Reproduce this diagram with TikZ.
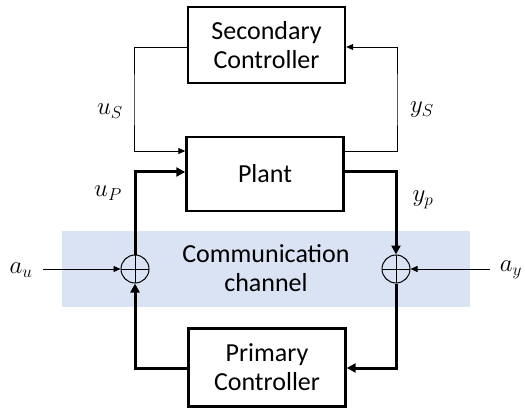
\documentclass[tikz,border=0pt]{standalone}
\usepackage{fontspec}
\setmainfont{Carlito}
\usetikzlibrary{arrows.meta}
\definecolor{band}{HTML}{DAE3F3}
\begin{document}
\begin{tikzpicture}[x=1pt,y=-1pt,
  blockbox/.style={draw,line width=2.4pt,minimum width=157pt,minimum height=74pt,align=center,font=\fontsize{26}{29}\selectfont,inner sep=0pt},
  thinline/.style={line width=0.8pt,-{Triangle[length=7pt,width=6pt]}},
  thickline/.style={line width=3pt,-{Triangle[length=9pt,width=9pt]}},
  sumnode/.style={circle,draw,line width=1pt,minimum size=28pt,inner sep=0pt,path picture={\draw[line width=0.8pt] (path picture bounding box.north) -- (path picture bounding box.south) (path picture bounding box.west) -- (path picture bounding box.east);}},
  lab/.style={font=\fontsize{26}{30}\selectfont,inner sep=0pt}]
\useasboundingbox (0,0) rectangle (525,409);
\fill[band] (62,231) rectangle (470,307);
\node[blockbox,minimum height=76pt] (sec) at (266.5,45) {Secondary\\Controller};
\node[blockbox] (plant) at (265,174) {Plant};
\node[blockbox,minimum height=78pt] (pri) at (267,367.5) {Primary\\Controller};
\node[sumnode] (sl) at (135,269) {};
\node[sumnode] (sr) at (396,269) {};
\node[font=\fontsize{26}{29}\selectfont,align=center] (cc) at (266,268) {Communication\\channel};
\node[lab] (au) at (21,270) {$a_u$};
\node[lab] (ay) at (511,270) {$a_y$};
\node[lab] (us) at (110,111) {$u_S$};
\node[lab] (ys) at (422,110) {$y_S$};
\node[lab] (up) at (108,193) {$u_P$};
\node[lab] (yp) at (423,200) {$y_p$};
\coordinate (aus) at (43,269);
\coordinate (ays) at (490,269);
% thin loop
\draw[thinline] (sec.west |- 0,47) -| (134,100) |- (plant.west |- 0,151);
\draw[thinline] (plant.east |- 0,151) -| (397,100) |- (sec.east |- 0,47);
% thick loop
\draw[thickline] (sl.north) |- (plant.west |- 0,172);
\draw[thickline] (plant.east |- 0,172) -| (sr.north);
\draw[thickline] (sr.south) |- (pri.east |- 0,368);
\draw[thickline] (pri.west |- 0,368) -| (sl.south);
\draw[thinline] (aus) -- (sl.west);
\draw[thinline] (ays) -- (sr.east);
\end{tikzpicture}
\end{document}
